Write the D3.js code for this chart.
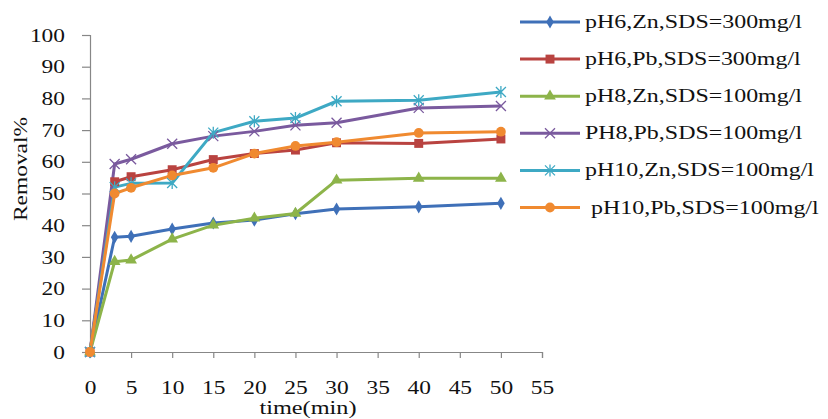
<!DOCTYPE html>
<html lang="en">
<head>
<meta charset="UTF-8">
<script src="https://d3js.org/d3.v7.min.js"></script>
<style>
  body { margin: 0; background: #fff; }
  text { font-family: "Liberation Serif", "DejaVu Serif", serif; fill: #111; }
</style>
</head>
<body>
<div id="chart"></div>
<script>
// Data
const times = [0, 3, 5, 10, 15, 20, 25, 30, 40, 50];
const pH6Zn = [0, 36.2, 36.5, 38.8, 40.7, 41.6, 43.6, 45.1, 45.8, 46.9];
const pH6Pb = [0, 53.7, 55.3, 57.5, 60.7, 62.6, 63.7, 66.0, 65.8, 67.2];
const pH8Zn = [0, 28.5, 29.0, 35.6, 40.0, 42.2, 43.7, 54.2, 54.8, 54.8];
const pH8Pb = [0, 59.3, 60.8, 65.7, 68.1, 69.6, 71.5, 72.3, 77.0, 77.6];
const pH10Zn = [0, 52.0, 53.2, 53.3, 69.2, 72.8, 73.8, 79.1, 79.4, 82.0];
const pH10Pb = [0, 50.0, 51.8, 55.7, 58.1, 62.6, 65.0, 66.2, 69.1, 69.5];
const seriesNames = ["pH6,Zn,SDS=300mg/l", "pH6,Pb,SDS=300mg/l", "pH8,Zn,SDS=100mg/l",
  "PH8,Pb,SDS=100mg/l", "pH10,Zn,SDS=100mg/l", " pH10,Pb,SDS=100mg/l"];
const xTicks = d3.range(0, 56, 5);
const yTicks = d3.range(0, 101, 10);

const series = [pH6Zn, pH6Pb, pH8Zn, pH8Pb, pH10Zn, pH10Pb].map((vals, i) => ({
  name: seriesNames[i],
  points: vals.map((v, j) => ({ t: times[j], v }))
}));

const colors = ["#3f70b8", "#b94340", "#8db44a", "#7a5a9e", "#3ea9c4", "#f08a30"];
const markers = ["diamond", "square", "triangle", "x", "star", "circle"];

const width = 828, height = 419;
const x = d3.scaleLinear().domain([0, 55]).range([90, 542]);
const y = d3.scaleLinear().domain([0, 100]).range([352, 35]);

const svg = d3.select("#chart").append("svg")
  .attr("width", width).attr("height", height);

// stretch glyphs horizontally, the source font is wide
function stretch(sel, k) {
  sel.each(function () {
    const w = this.getComputedTextLength();
    d3.select(this).attr("textLength", w * k).attr("lengthAdjust", "spacingAndGlyphs");
  });
}

function drawMarker(g, type, color) {
  if (type === "diamond") {
    g.append("path").attr("d", d3.symbol(d3.symbolDiamond, 50)()).attr("fill", color);
  } else if (type === "square") {
    g.append("path").attr("d", d3.symbol(d3.symbolSquare, 80)()).attr("fill", color);
  } else if (type === "triangle") {
    g.append("path").attr("d", d3.symbol(d3.symbolTriangle, 60)()).attr("fill", color);
  } else if (type === "circle") {
    g.append("path").attr("d", d3.symbol(d3.symbolCircle, 75)()).attr("fill", color);
  } else if (type === "x") {
    g.append("path").attr("d", "M-5,-5L5,5M-5,5L5,-5")
      .attr("stroke", color).attr("stroke-width", 1.3).attr("fill", "none");
  } else if (type === "star") {
    g.append("path").attr("d", "M-5,-5L5,5M-5,5L5,-5M0,-6L0,6")
      .attr("stroke", color).attr("stroke-width", 1.3).attr("fill", "none");
  }
}

// Axes
const axisColor = "#878787";
const xAxis = svg.append("g")
  .attr("transform", `translate(0,${y(0)})`)
  .call(d3.axisBottom(x).tickValues(xTicks).tickSize(6).tickPadding(23));
const yAxis = svg.append("g")
  .attr("transform", `translate(${x(0)},0)`)
  .call(d3.axisLeft(y).tickValues(yTicks).tickSize(8).tickPadding(17));

[xAxis, yAxis].forEach(a => {
  a.select(".domain").attr("stroke", axisColor).attr("stroke-width", 1.2);
  a.selectAll(".tick line").attr("stroke", axisColor).attr("stroke-width", 1.2);
  a.selectAll("text")
    .style("font-family", '"Liberation Serif", serif')
    .style("font-size", "18px").style("fill", "#111");
});
xAxis.selectAll("text").call(stretch, 1.3);
yAxis.selectAll("text").call(stretch, 1.3);
// keep y labels right aligned after stretching
yAxis.selectAll(".tick text").attr("dy", "0.34em");

svg.append("text")
  .attr("x", 308).attr("y", 414)
  .attr("text-anchor", "middle")
  .style("font-size", "18px")
  .text("time(min)")
  .call(stretch, 1.35);

svg.append("text")
  .attr("transform", "translate(27,169) rotate(-90)")
  .attr("text-anchor", "middle")
  .style("font-size", "18px")
  .text("Removal%")
  .call(stretch, 1.3);

// Lines
const line = d3.line().x(d => x(d.t)).y(d => y(d.v));

series.forEach((s, i) => {
  svg.append("path")
    .datum(s.points)
    .attr("d", line)
    .attr("fill", "none")
    .attr("stroke", colors[i])
    .attr("stroke-width", 3)
    .attr("stroke-linejoin", "round");
});
series.forEach((s, i) => {
  svg.append("g").selectAll("g")
    .data(s.points)
    .join("g")
    .attr("transform", d => `translate(${x(d.t)},${y(d.v)})`)
    .each(function () { drawMarker(d3.select(this), markers[i], colors[i]); });
});

// Legend
const legend = svg.append("g").attr("transform", "translate(520,22)");
series.forEach((s, i) => {
  const g = legend.append("g").attr("transform", `translate(0,${i * 37.1})`);
  g.append("line").attr("x1", 0).attr("x2", 60)
    .attr("stroke", colors[i]).attr("stroke-width", 3);
  const m = g.append("g").attr("transform", "translate(30,0)");
  drawMarker(m, markers[i], colors[i]);
  g.append("text")
    .attr("x", 65).attr("y", 6)
    .style("font-size", "18px")
    .style("white-space", "pre")
    .attr("xml:space", "preserve")
    .text(s.name)
    .call(stretch, 1.33);
});
</script>
</body>
</html>
